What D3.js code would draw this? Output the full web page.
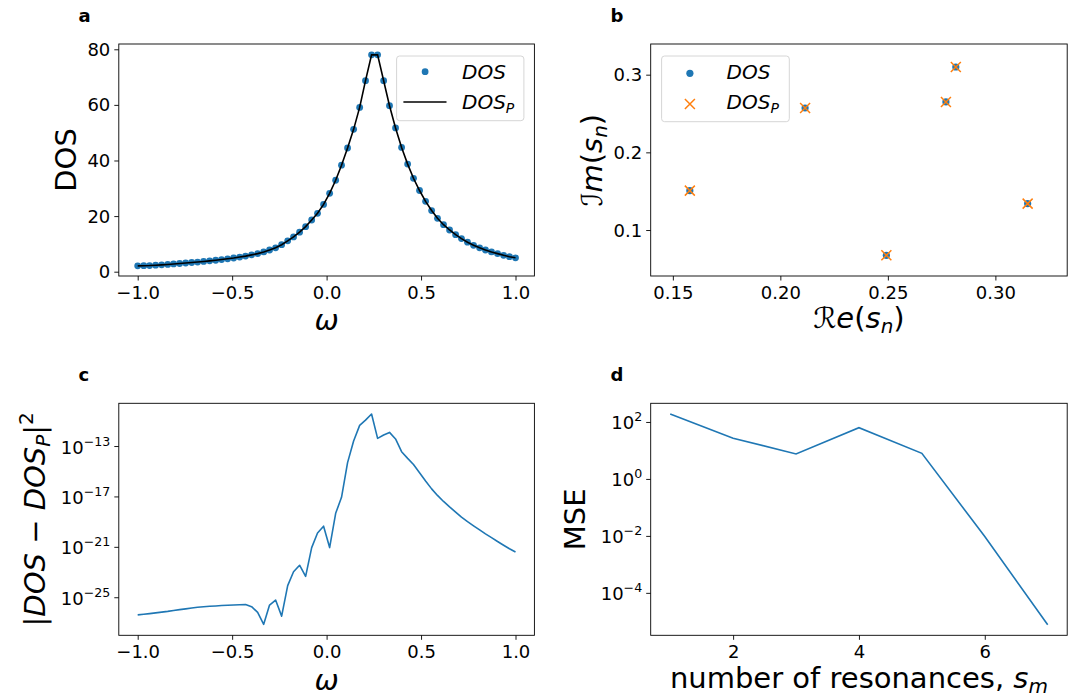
<!doctype html>
<html lang="en">
<head>
	<meta charset="UTF-8">
	<title>DOS resonance fit</title>
	<script src="https://d3js.org/d3.v7.min.js"></script>
	<style>
		body { margin: 0; padding: 0; background: #fff; }
		svg { display: block; font-family: "DejaVu Sans", sans-serif; }
		.tick text { font-size: 18px; fill: #000; font-family: "DejaVu Sans", sans-serif; }
		.tick line { stroke: #000; stroke-width: 0.9; }
		.frame { fill: none; stroke: #000; stroke-width: 0.9; }
		.legend-box { fill: #fff; fill-opacity: 0.8; stroke: #d6d6d6; stroke-width: 1; }
		.it { font-style: italic; }
	</style>
</head>
<body>
	<div id="chart"></div>

	<script>
		//////////////////////////////////////
		/////////////// Data /////////////////
		//////////////////////////////////////

		// frequency grid (panels a and c)
		const omega = [
			-1.000, -0.968, -0.937, -0.905, -0.873, -0.841, -0.810, -0.778,
			-0.746, -0.714, -0.683, -0.651, -0.619, -0.587, -0.556, -0.524,
			-0.492, -0.460, -0.429, -0.397, -0.365, -0.333, -0.302, -0.270,
			-0.238, -0.206, -0.175, -0.143, -0.111, -0.079, -0.048, -0.016,
			0.016, 0.048, 0.079, 0.111, 0.143, 0.175, 0.206, 0.238,
			0.270, 0.302, 0.333, 0.365, 0.397, 0.429, 0.460, 0.492,
			0.524, 0.556, 0.587, 0.619, 0.651, 0.683, 0.714, 0.746,
			0.778, 0.810, 0.841, 0.873, 0.905, 0.937, 0.968, 1.000
		];

		// panel a: DOS samples
		const dos = [
			2.1, 2.15, 2.2, 2.33, 2.46, 2.6, 2.78, 2.95,
			3.13, 3.3, 3.47, 3.68, 3.9, 4.12, 4.37, 4.63,
			4.92, 5.26, 5.6, 6.05, 6.5, 7.1, 7.8, 8.6,
			9.7, 11.1, 12.5, 14.2, 16.2, 18.6, 21.0, 24.2,
			28.2, 32.9, 38.3, 44.5, 51.2, 59.1, 68.7, 78.0,
			78.0, 68.7, 59.7, 51.7, 44.7, 38.7, 33.6, 29.2,
			25.3, 22.0, 19.2, 16.9, 15.0, 13.3, 11.9, 10.6,
			9.5, 8.6, 7.8, 7.1, 6.5, 5.9, 5.4, 5.0
		];
		// panel a: fitted DOS_P (indistinguishable from DOS at this scale)
		const dosP = [
			2.1, 2.15, 2.2, 2.33, 2.46, 2.6, 2.78, 2.95,
			3.13, 3.3, 3.47, 3.68, 3.9, 4.12, 4.37, 4.63,
			4.92, 5.26, 5.6, 6.05, 6.5, 7.1, 7.8, 8.6,
			9.7, 11.1, 12.5, 14.2, 16.2, 18.6, 21.0, 24.2,
			28.2, 32.9, 38.3, 44.5, 51.2, 59.1, 68.7, 78.0,
			78.0, 68.7, 59.7, 51.7, 44.7, 38.7, 33.6, 29.2,
			25.3, 22.0, 19.2, 16.9, 15.0, 13.3, 11.9, 10.6,
			9.5, 8.6, 7.8, 7.1, 6.5, 5.9, 5.4, 5.0
		];

		// panel b: resonances in the complex plane
		const reDos = [0.1579, 0.2115, 0.2493, 0.2770, 0.2816, 0.3150];
		const imDos = [0.1507, 0.2571, 0.0674, 0.2649, 0.3099, 0.1340];
		const reDosP = [0.1579, 0.2115, 0.2493, 0.2770, 0.2816, 0.3150];
		const imDosP = [0.1507, 0.2571, 0.0674, 0.2649, 0.3099, 0.1340];

		// panel c: log10 |DOS - DOS_P|^2 on the omega grid
		const logSqErr = [
			-26.40, -26.35, -26.30, -26.24, -26.18, -26.12, -26.05, -25.98,
			-25.92, -25.86, -25.80, -25.76, -25.72, -25.69, -25.66, -25.63,
			-25.61, -25.59, -25.58, -25.75, -26.20, -27.15, -25.62, -25.22,
			-26.50, -24.08, -22.98, -22.46, -23.34, -21.06, -19.90, -19.36,
			-21.06, -18.34, -17.07, -14.32, -12.60, -11.36, -10.94, -10.46,
			-12.39, -12.13, -11.92, -12.44, -13.45, -13.98, -14.47, -15.12,
			-15.78, -16.40, -16.92, -17.40, -17.83, -18.24, -18.64, -19.00,
			-19.33, -19.66, -19.97, -20.27, -20.58, -20.87, -21.15, -21.41
		];

		// panel d: MSE against number of resonances
		const nRes = [1, 2, 3, 4, 5, 6, 7];
		const mse = [190, 27, 7.5, 63, 7.9, 0.0095, 7.6e-6];

		// tick values
		const omegaTicks = [-1.0, -0.5, 0.0, 0.5, 1.0];
		const dosTicks = [0, 20, 40, 60, 80];
		const reTicks = [0.15, 0.20, 0.25, 0.30];
		const imTicks = [0.1, 0.2, 0.3];
		const errTicks = [1e-25, 1e-21, 1e-17, 1e-13];
		const nTicks = [2, 4, 6];
		const mseTicks = [1e-4, 1e-2, 1e0, 1e2];

		//////////////////////////////////////
		////////////// Layout ////////////////
		//////////////////////////////////////

		const width = 1074;
		const height = 698;

		const boxA = { left: 118.8, right: 534.4, top: 44, bottom: 276 };
		const boxB = { left: 650.7, right: 1067.2, top: 44, bottom: 276 };
		const boxC = { left: 118.8, right: 534.4, top: 403.3, bottom: 635.3 };
		const boxD = { left: 650.7, right: 1067.2, top: 403.3, bottom: 635.3 };

		const blue = '#1f77b4';
		const orange = '#ff7f0e';

		const svg = d3.select('#chart')
			.append('svg')
			.attr('width', width)
			.attr('height', height);

		svg.append('rect')
			.attr('width', width)
			.attr('height', height)
			.attr('fill', '#fff');

		// Scales
		const xA = d3.scaleLinear().domain([-1.1, 1.1]).range([boxA.left, boxA.right]);
		const yA = d3.scaleLinear().domain([-1.55, 81.9]).range([boxA.bottom, boxA.top]);
		const xB = d3.scaleLinear().domain([0.1397, 0.3334]).range([boxB.left, boxB.right]);
		const yB = d3.scaleLinear().domain([0.0408, 0.3395]).range([boxB.bottom, boxB.top]);
		const xC = d3.scaleLinear().domain([-1.1, 1.1]).range([boxC.left, boxC.right]);
		const yC = d3.scaleLog().domain([Math.pow(10, -28.02), Math.pow(10, -9.61)]).range([boxC.bottom, boxC.top]);
		const xD = d3.scaleLinear().domain([0.69, 7.31]).range([boxD.left, boxD.right]);
		const yD = d3.scaleLog().domain([Math.pow(10, -5.49), Math.pow(10, 2.655)]).range([boxD.bottom, boxD.top]);

		// axes helper
		function drawAxes(box, x, y, xTicks, yTicks, xFmt, yFmt, logY) {
			const gx = svg.append('g')
				.attr('transform', 'translate(0,' + box.bottom + ')')
				.call(d3.axisBottom(x).tickValues(xTicks).tickSize(4.5).tickFormat(xFmt));
			gx.select('.domain').remove();
			gx.selectAll('text').attr('y', 23).attr('dy', null);

			const gy = svg.append('g')
				.attr('transform', 'translate(' + box.left + ',0)')
				.call(d3.axisLeft(y).tickValues(yTicks).tickSize(4.5).tickFormat(yFmt));
			gy.select('.domain').remove();
			gy.selectAll('text').attr('x', -8.5).attr('dy', 6);

			if (logY) {
				gy.selectAll('.tick text').each(function(d) {
					const e = Math.round(Math.log10(d));
					const t = d3.select(this).text('10').attr('dy', 7);
					t.append('tspan')
						.attr('dy', -8)
						.attr('font-size', 12.6)
						.text(e < 0 ? '\u2212' + (-e) : String(e));
				});
			}
		}

		function drawFrame(box) {
			svg.append('rect')
				.attr('class', 'frame')
				.attr('x', box.left)
				.attr('y', box.top)
				.attr('width', box.right - box.left)
				.attr('height', box.bottom - box.top);
		}

		function panelLetter(txt, x, y) {
			svg.append('text')
				.attr('x', x)
				.attr('y', y)
				.attr('font-size', 18)
				.attr('font-weight', 'bold')
				.text(txt);
		}

		//////////////////////////////////////
		////////////// Panel a ///////////////
		//////////////////////////////////////

		const ptsA = omega.map((w, i) => ({ w: w, v: dos[i] }));
		const fitA = omega.map((w, i) => ({ w: w, v: dosP[i] }));

		svg.append('g').selectAll('circle')
			.data(ptsA)
			.enter().append('circle')
			.attr('cx', (d) => xA(d.w))
			.attr('cy', (d) => yA(d.v))
			.attr('r', 3.4)
			.attr('fill', blue);

		svg.append('path')
			.datum(fitA)
			.attr('fill', 'none')
			.attr('stroke', '#000')
			.attr('stroke-width', 1.6)
			.attr('d', d3.line().x((d) => xA(d.w)).y((d) => yA(d.v)));

		drawAxes(boxA, xA, yA, omegaTicks, dosTicks, d3.format('.1f'), d3.format('d'), false);
		drawFrame(boxA);

		// legend a
		svg.append('rect').attr('class', 'legend-box')
			.attr('x', 396.6).attr('y', 56).attr('width', 127.3).attr('height', 64.7).attr('rx', 3);
		svg.append('circle').attr('cx', 425.1).attr('cy', 71.7).attr('r', 3.4).attr('fill', blue);
		svg.append('text').attr('class', 'it').attr('x', 462).attr('y', 79).attr('font-size', 20).text('DOS');
		svg.append('line').attr('x1', 403.4).attr('x2', 446.5).attr('y1', 102).attr('y2', 102)
			.attr('stroke', '#000').attr('stroke-width', 1.6);
		const legP = svg.append('text').attr('class', 'it').attr('x', 462).attr('y', 109).attr('font-size', 20).text('DOS');
		legP.append('tspan').attr('font-size', 14).attr('dy', 4).text('P');

		svg.append('text')
			.attr('transform', 'translate(75.5,160) rotate(-90)')
			.attr('text-anchor', 'middle')
			.attr('font-size', 29)
			.text('DOS');
		svg.append('text')
			.attr('class', 'it')
			.attr('x', (boxA.left + boxA.right) / 2)
			.attr('y', 330)
			.attr('text-anchor', 'middle')
			.attr('font-size', 29)
			.text('\u03c9');

		panelLetter('a', 78.5, 21.5);

		//////////////////////////////////////
		////////////// Panel b ///////////////
		//////////////////////////////////////

		const ptsB = reDos.map((r, i) => ({ r: r, m: imDos[i] }));
		const ptsBP = reDosP.map((r, i) => ({ r: r, m: imDosP[i] }));

		svg.append('g').selectAll('circle')
			.data(ptsB)
			.enter().append('circle')
			.attr('cx', (d) => xB(d.r))
			.attr('cy', (d) => yB(d.m))
			.attr('r', 3.6)
			.attr('fill', blue);

		const xMark = 'M-5,-5L5,5M-5,5L5,-5';
		svg.append('g').selectAll('path')
			.data(ptsBP)
			.enter().append('path')
			.attr('transform', (d) => 'translate(' + xB(d.r) + ',' + yB(d.m) + ')')
			.attr('d', xMark)
			.attr('stroke', orange)
			.attr('stroke-width', 1.5)
			.attr('fill', 'none');

		drawAxes(boxB, xB, yB, reTicks, imTicks, d3.format('.2f'), d3.format('.1f'), false);
		drawFrame(boxB);

		// legend b
		svg.append('rect').attr('class', 'legend-box')
			.attr('x', 661.6).attr('y', 56).attr('width', 127.7).attr('height', 65.7).attr('rx', 3);
		svg.append('circle').attr('cx', 689.9).attr('cy', 73.3).attr('r', 3.6).attr('fill', blue);
		svg.append('text').attr('class', 'it').attr('x', 726.6).attr('y', 79).attr('font-size', 20).text('DOS');
		svg.append('path').attr('transform', 'translate(689.9,104)').attr('d', xMark)
			.attr('stroke', orange).attr('stroke-width', 1.5).attr('fill', 'none');
		const legPB = svg.append('text').attr('class', 'it').attr('x', 726.6).attr('y', 109).attr('font-size', 20).text('DOS');
		legPB.append('tspan').attr('font-size', 14).attr('dy', 4).text('P');

		// y label: Im(s_n)
		const ylabB = svg.append('text')
			.attr('transform', 'translate(602,160) rotate(-90)')
			.attr('text-anchor', 'middle')
			.attr('font-size', 29);
		ylabB.append('tspan').text('\u2110');
		ylabB.append('tspan').attr('class', 'it').text('m');
		ylabB.append('tspan').text('(');
		ylabB.append('tspan').attr('class', 'it').text('s');
		ylabB.append('tspan').attr('class', 'it').attr('font-size', 20).attr('dy', 5).text('n');
		ylabB.append('tspan').attr('dy', -5).text(')');

		// x label: Re(s_n)
		const xlabB = svg.append('text')
			.attr('x', (boxB.left + boxB.right) / 2)
			.attr('y', 328.3)
			.attr('text-anchor', 'middle')
			.attr('font-size', 29);
		xlabB.append('tspan').text('\u211b');
		xlabB.append('tspan').attr('class', 'it').text('e');
		xlabB.append('tspan').text('(');
		xlabB.append('tspan').attr('class', 'it').text('s');
		xlabB.append('tspan').attr('class', 'it').attr('font-size', 20).attr('dy', 5).text('n');
		xlabB.append('tspan').attr('dy', -5).text(')');

		panelLetter('b', 610.5, 21.5);

		//////////////////////////////////////
		////////////// Panel c ///////////////
		//////////////////////////////////////

		const ptsC = omega.map((w, i) => ({ w: w, v: Math.pow(10, logSqErr[i]) }));

		svg.append('path')
			.datum(ptsC)
			.attr('fill', 'none')
			.attr('stroke', blue)
			.attr('stroke-width', 1.6)
			.attr('stroke-linejoin', 'round')
			.attr('d', d3.line().x((d) => xC(d.w)).y((d) => yC(d.v)));

		drawAxes(boxC, xC, yC, omegaTicks, errTicks, d3.format('.1f'), () => '', true);
		drawFrame(boxC);

		// y label: |DOS - DOS_P|^2
		const ylabC = svg.append('text')
			.attr('transform', 'translate(44.5,519.3) rotate(-90)')
			.attr('text-anchor', 'middle')
			.attr('font-size', 29);
		ylabC.append('tspan').text('|');
		ylabC.append('tspan').attr('class', 'it').text('DOS');
		ylabC.append('tspan').text(' \u2212 ');
		ylabC.append('tspan').attr('class', 'it').text('DOS');
		ylabC.append('tspan').attr('class', 'it').attr('font-size', 20).attr('dy', 5).text('P');
		ylabC.append('tspan').attr('dy', -5).text('|');
		ylabC.append('tspan').attr('font-size', 20).attr('dy', -12).text('2');

		svg.append('text')
			.attr('class', 'it')
			.attr('x', (boxC.left + boxC.right) / 2)
			.attr('y', 690)
			.attr('text-anchor', 'middle')
			.attr('font-size', 29)
			.text('\u03c9');

		panelLetter('c', 78.5, 380.7);

		//////////////////////////////////////
		////////////// Panel d ///////////////
		//////////////////////////////////////

		const ptsD = nRes.map((n, i) => ({ n: n, v: mse[i] }));

		svg.append('path')
			.datum(ptsD)
			.attr('fill', 'none')
			.attr('stroke', blue)
			.attr('stroke-width', 1.6)
			.attr('d', d3.line().x((d) => xD(d.n)).y((d) => yD(d.v)));

		drawAxes(boxD, xD, yD, nTicks, mseTicks, d3.format('d'), () => '', true);
		drawFrame(boxD);

		svg.append('text')
			.attr('transform', 'translate(585.3,519.3) rotate(-90)')
			.attr('text-anchor', 'middle')
			.attr('font-size', 29)
			.text('MSE');

		const xlabD = svg.append('text')
			.attr('x', (boxD.left + boxD.right) / 2)
			.attr('y', 688.3)
			.attr('text-anchor', 'middle')
			.attr('font-size', 29);
		xlabD.append('tspan').text('number of resonances, ');
		xlabD.append('tspan').attr('class', 'it').text('s');
		xlabD.append('tspan').attr('class', 'it').attr('font-size', 20).attr('dy', 5).text('m');

		panelLetter('d', 610.5, 380.7);
	</script>
</body>
</html>
